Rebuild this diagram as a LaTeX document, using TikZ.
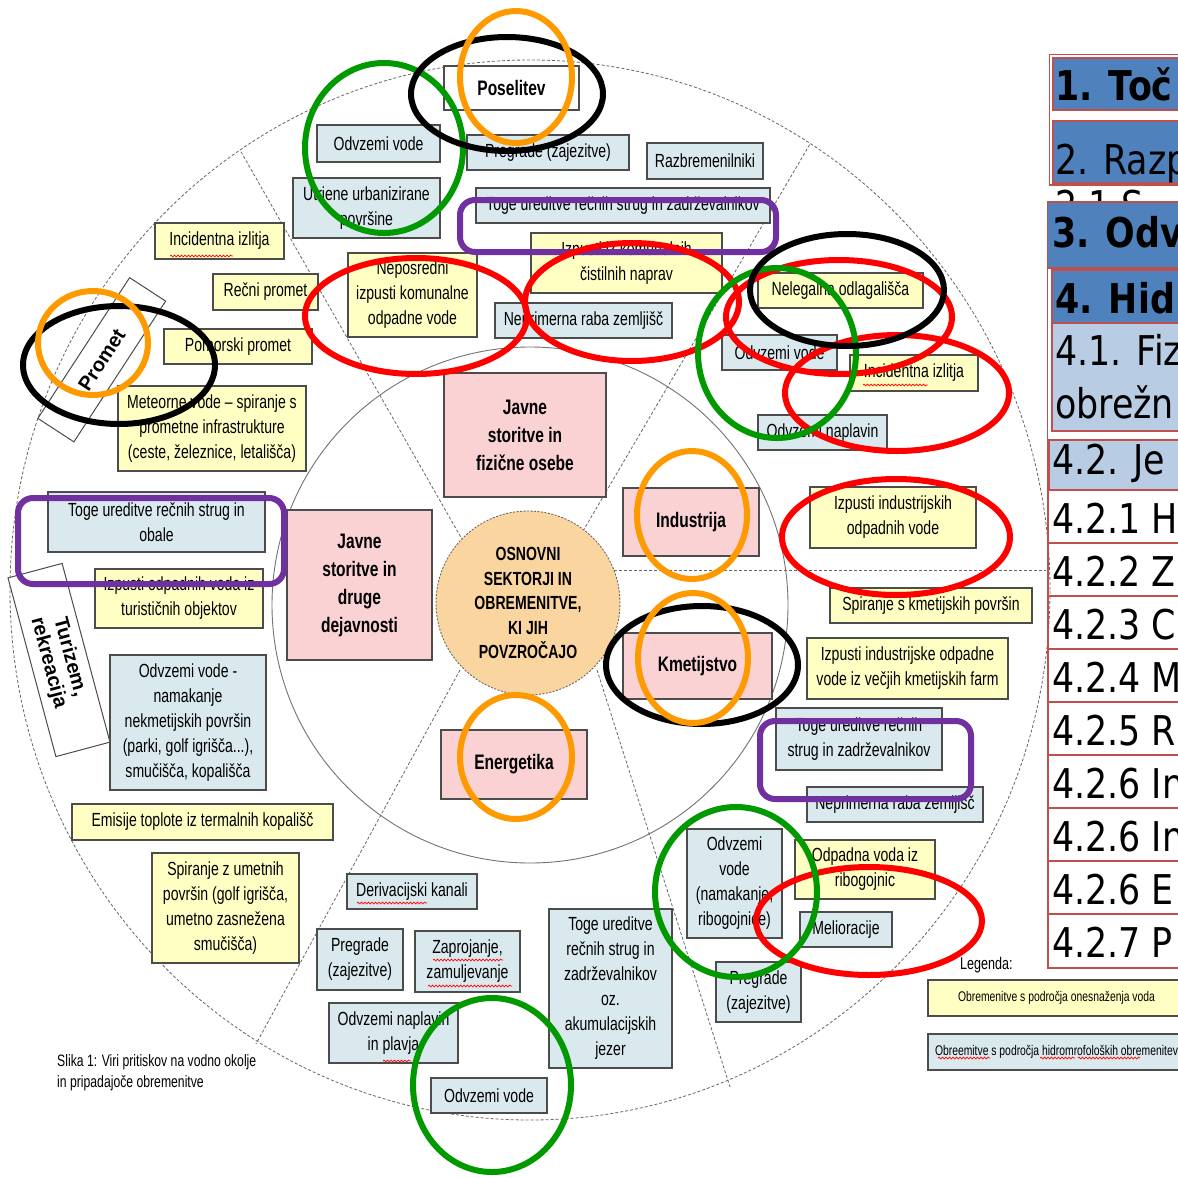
\documentclass[tikz,border=0pt]{standalone}
\usepackage{fontspec}
\setmainfont{Liberation Sans}
\newfontfamily\nf{Liberation Sans}[FakeStretch=0.74]
\newfontfamily\wf{Liberation Sans}
\newfontfamily\tabfont{DejaVu Sans}[FakeStretch=0.85]
\usetikzlibrary{decorations.pathmorphing}
\definecolor{blueF}{RGB}{218,233,238}
\definecolor{yelF}{RGB}{255,255,196}
\definecolor{pinkF}{RGB}{250,210,212}
\definecolor{centerF}{RGB}{250,213,160}
\definecolor{tblue}{RGB}{79,129,189}
\definecolor{tlight}{RGB}{184,204,228}
\definecolor{tred}{RGB}{192,80,77}
\definecolor{annO}{RGB}{255,153,0}
\definecolor{annG}{RGB}{0,153,0}
\definecolor{annR}{RGB}{255,0,0}
\definecolor{annP}{RGB}{112,48,160}
\tikzset{
  basebox/.style={draw=black!70, line width=1.2pt, inner sep=1pt, align=center,
    font=\nf\fontsize{19}{25}\selectfont},
  bluebox/.style={basebox, fill=blueF},
  yelbox/.style={basebox, fill=yelF},
  pinkbox/.style={basebox, fill=pinkF, font=\nf\bfseries\fontsize{21}{28}\selectfont},
  divline/.style={draw=black!60, line width=0.8pt, dash pattern=on 3pt off 2pt},
  annline/.style={line width=6pt},
  squig/.style={draw=red, line width=0.7pt, decorate, decoration={snake, amplitude=0.9pt, segment length=3.5pt}},
  trow/.style={draw=tred, line width=1.6pt},
  tabtxt/.style={anchor=base west, inner sep=0pt, font=\tabfont\fontsize{41}{41}\selectfont},
  tabbold/.style={tabtxt, font=\tabfont\bfseries\fontsize{41}{41}\selectfont},
}
\newcommand{\rbox}[7]{\node[#1, minimum width={(#5-#3)*1pt}, minimum height={(#6-#4)*1pt}] (#2) at ({(#3+#5)/2},{(#4+#6)/2}) {#7};}
\begin{document}
\begin{tikzpicture}[x=1pt,y=-1pt]
\useasboundingbox (0,0) rectangle (1178,1178);
\fill[white] (0,0) rectangle (1178,1178);

% rings
\draw[divline] (530,590) ellipse [x radius=520pt, y radius=530pt];
\draw[draw=black!55, line width=0.9pt] (530,605) circle [radius=258pt];

% dividers
\coordinate (la1) at (463,541); \coordinate (la2) at (240,150);
\coordinate (lb1) at (583,531); \coordinate (lb2) at (810,144);
\coordinate (lc1) at (614,570); \coordinate (lc2) at (1046,570);
\coordinate (ld1) at (597,670); \coordinate (ld2) at (730,1087);
\coordinate (le1) at (460,670); \coordinate (le2) at (256,1044);
\draw[divline] (la1) -- (la2);
\draw[divline] (lb1) -- (lb2);
\draw[divline] (lc1) -- (lc2);
\draw[divline] (ld1) -- (ld2);
\draw[divline] (le1) -- (le2);

% centre
\node[circle, draw=black!60, dash pattern=on 2pt off 1.5pt, line width=0.9pt, fill=centerF, minimum size=184pt, inner sep=0pt, align=center, font=\nf\bfseries\fontsize{19}{24.5}\selectfont] (ctr) at (528,603) {OSNOVNI\\SEKTORJI IN\\OBREMENITVE,\\KI JIH\\POVZROČAJO};

% top sector
\rbox{basebox, fill=white, font=\nf\bfseries\fontsize{21}{25}\selectfont}{pos}{444}{66}{579}{110}{Poselitev}
\rbox{bluebox}{b1}{317}{125}{440}{162}{Odvzemi vode}
\rbox{bluebox}{b2}{467}{135}{629}{170}{Pregrade (zajezitve)}
\rbox{bluebox}{b3}{647}{143}{763}{179}{Razbremenilniki}
\rbox{bluebox}{b4}{293}{178}{440}{238}{Utrjene urbanizirane\\površine}
\rbox{bluebox}{b5}{476}{188}{770}{223}{Toge ureditve rečnih strug in zadrževalnikov}
\rbox{yelbox}{y1}{531}{233}{722}{293}{Izpusti iz komunalnih\\čistilnih naprav}
\rbox{yelbox}{y2}{348}{253}{477}{337}{Neposredni\\izpusti komunalne\\odpadne vode}
\rbox{bluebox}{b6}{495}{303}{672}{338}{Neprimerna raba zemljišč}

% upper right
\rbox{yelbox}{y3}{758}{273}{923}{308}{Nelegalna odlagališča}
\rbox{bluebox}{b7}{722}{335}{837}{370}{Odvzemi vode}
\rbox{yelbox}{y4}{850}{355}{978}{391}{Incidentna izlitja}
\rbox{bluebox}{b8}{758}{415}{887}{450}{Odvzemi naplavin}
\rbox{yelbox}{y5}{810}{487}{976}{548}{Izpusti industrijskih\\odpadnih vode}

% lower right
\rbox{yelbox}{y6}{830}{588}{1032}{623}{Spiranje s kmetijskih površin}
\rbox{yelbox}{y7}{807}{638}{1008}{699}{Izpusti industrijske odpadne\\vode iz večjih kmetijskih farm}
\rbox{bluebox}{b9}{776}{708}{942}{770}{Toge ureditve rečnih\\strug in zadrževalnikov}
\rbox{bluebox}{b10}{807}{787}{983}{822}{Neprimerna raba zemljišč}
\rbox{yelbox}{y8}{795}{840}{935}{899}{Odpadna voda iz\\ribogojnic}
\rbox{bluebox}{b11}{800}{912}{892}{947}{Melioracije}
\rbox{bluebox}{b12}{687}{829}{782}{938}{Odvzemi\\vode\\(namakanje,\\ribogojnice)}
\rbox{bluebox}{b13}{716}{962}{801}{1022}{Pregrade\\(zajezitve)}

% bottom
\rbox{bluebox}{b14}{549}{909}{672}{1068}{Toge ureditve\\rečnih strug in\\zadrževalnikov\\oz.\\akumulacijskih\\jezer}
\rbox{bluebox}{b15}{347}{874}{477}{909}{Derivacijski kanali}
\rbox{bluebox}{b16}{317}{929}{403}{990}{Pregrade\\(zajezitve)}
\rbox{bluebox}{b17}{415}{931}{520}{992}{Zaprojanje,\\zamuljevanje}
\rbox{bluebox}{b18}{329}{1003}{458}{1063}{Odvzemi naplavin\\in plavja}
\rbox{bluebox}{b19}{431}{1078}{547}{1113}{Odvzemi vode}

% lower left
\rbox{bluebox}{b20}{48}{492}{265}{552}{Toge ureditve rečnih strug in\\obale}
\rbox{yelbox}{y9}{95}{569}{263}{628}{Izpusti odpadnih voda iz\\turističnih objektov}
\rbox{bluebox}{b21}{110}{655}{266}{790}{Odvzemi vode -\\namakanje\\nekmetijskih površin\\(parki, golf igrišča...),\\smučišča, kopališča}
\rbox{yelbox}{y10}{72}{804}{333}{840}{Emisije toplote iz termalnih kopališč}
\rbox{yelbox}{y11}{152}{853}{299}{963}{Spiranje z umetnih\\površin (golf igrišča,\\umetno zasnežena\\smučišča)}

% upper left
\rbox{yelbox}{y12}{155}{223}{284}{259}{Incidentna izlitja}
\rbox{yelbox}{y13}{213}{274}{318}{310}{Rečni promet}
\rbox{yelbox}{y14}{164}{329}{312}{364}{Pomorski promet}
\rbox{yelbox}{y15}{118}{386}{306}{471}{Meteorne vode – spiranje s\\prometne infrastrukture\\(ceste, železnice, letališča)}

% inner ring
\rbox{pinkbox}{p1}{444}{373}{606}{497}{Javne\\storitve in\\fizične osebe}
\rbox{pinkbox}{p2}{623}{488}{759}{556}{Industrija}
\rbox{pinkbox}{p3}{623}{633}{772}{699}{Kmetijstvo}
\rbox{pinkbox}{p4}{441}{730}{587}{799}{Energetika}
\rbox{pinkbox}{p5}{287}{510}{432}{660}{Javne\\storitve in\\druge\\dejavnosti}

% sector labels
\node[draw=black!70, line width=1pt, fill=white, rotate=56.9, minimum width=168pt, minimum height=43pt, inner sep=0pt, font=\wf\bfseries\fontsize{20}{24}\selectfont] (prom) at (101.75,359.75) {Promet};
\node[draw=black!70, line width=1pt, fill=white, rotate=-75, minimum width=185pt, minimum height=56pt, inner sep=0pt, align=center, font=\wf\bfseries\fontsize{20}{22}\selectfont] (tur) at (59,660) {Turizem,\\rekreacija};

% caption
\node[anchor=base west, inner sep=0pt, font=\nf\fontsize{16.5}{21}\selectfont] (cap1) at (57,1066) {Slika 1: Viri pritiskov na vodno okolje};
\node[anchor=base west, inner sep=0pt, font=\nf\fontsize{16.5}{21}\selectfont] (cap2) at (57,1087) {in pripadajoče obremenitve};

% legend
\node[anchor=base west, inner sep=0pt, font=\nf\fontsize{17}{20}\selectfont] (leg) at (960,969) {Legenda:};
\rbox{yelbox, font=\nf\fontsize{14}{16}\selectfont}{l1}{928}{980}{1185}{1016}{Obremenitve s področja onesnaženja voda}
\rbox{bluebox, font=\nf\fontsize{14}{16}\selectfont}{l2}{928}{1034}{1185}{1070}{Obreemitve s področja hidromrofoloških obremenitev}

% spelling squiggles
\draw[squig] (170,256) -- (233,256);
\draw[squig] (863,385) -- (928,385);
\draw[squig] (357,903) -- (427,903);
\draw[squig] (433,960) -- (503,960);
\draw[squig] (428,986) -- (512,986);
\draw[squig] (383,1061) -- (411,1061);
\draw[squig] (938,1058) -- (990,1058);
\draw[squig] (1040,1058) -- (1075,1058);
\draw[squig] (1078,1058) -- (1140,1058);

% table
\draw[trow] (1049.5,54.5) rectangle (1182,185);
\draw[trow, fill=tblue] (1053,58) rectangle (1182,110);
\node[tabbold] (t1) at (1055,100) {1. Toč};
\draw[trow, fill=tblue] (1053,121) rectangle (1182,183);
\node[tabtxt] (t2) at (1055,174) {2. Razp};
\node[tabtxt] (t21) at (1055,220) {2.1 S};
\draw[trow, fill=tblue] (1047.5,202) rectangle (1182,268);
\node[tabbold] (t3) at (1052,247) {3. Odv};
\draw[trow, fill=tblue] (1052,270) rectangle (1182,323);
\node[tabbold] (t4) at (1055,313) {4. Hid};
\draw[trow, fill=tlight] (1052,323) rectangle (1182,431);
\node[tabtxt] (t41a) at (1055,365) {4.1. Fiz};
\node[tabtxt] (t41b) at (1055,418) {obrežn};
\draw[trow] (1047.5,202) -- (1047.5,968);
\draw[trow, fill=tlight] (1049,440) rectangle (1182,490);
\node[tabtxt] (t42) at (1052,474) {4.2. Je};
\draw[trow] (1048,490) rectangle (1182,543);
\node[tabtxt] (r1) at (1052,533) {4.2.1 H};
\draw[trow] (1048,543) rectangle (1182,596);
\node[tabtxt] (r2) at (1052,586) {4.2.2 Z};
\draw[trow] (1048,596) rectangle (1182,649);
\node[tabtxt] (r3) at (1052,639) {4.2.3 C};
\draw[trow] (1048,649) rectangle (1182,702);
\node[tabtxt] (r4) at (1052,692) {4.2.4 M};
\draw[trow] (1048,702) rectangle (1182,755);
\node[tabtxt] (r5) at (1052,745) {4.2.5 R};
\draw[trow] (1048,755) rectangle (1182,808);
\node[tabtxt] (r6) at (1052,798) {4.2.6 In};
\draw[trow] (1048,808) rectangle (1182,861);
\node[tabtxt] (r7) at (1052,851) {4.2.6 In};
\draw[trow] (1048,861) rectangle (1182,914);
\node[tabtxt] (r8) at (1052,904) {4.2.6 E};
\draw[trow] (1048,914) rectangle (1182,968);
\node[tabtxt] (r9) at (1052,957) {4.2.7 P};

% annotations: purple
\draw[annline, annP, rounded corners=15pt] (460,200) rectangle (776,252);
\draw[annline, annP, rounded corners=15pt] (18,498) rectangle (284,584);
\draw[annline, annP, rounded corners=15pt] (760,721) rectangle (971,799);
% red
\draw[annline, annR] (416,316) ellipse [x radius=111pt, y radius=58pt];
\draw[annline, annR] (632,302) ellipse [x radius=107pt, y radius=59pt];
\draw[annline, annR] (839,317) ellipse [x radius=113pt, y radius=57pt];
\draw[annline, annR] (897,393) ellipse [x radius=112pt, y radius=58pt];
\draw[annline, annR] (896,537) ellipse [x radius=114pt, y radius=58pt];
\draw[annline, annR] (869,921) ellipse [x radius=113pt, y radius=54pt];
% green
\draw[annline, annG] (384,148) ellipse [x radius=79pt, y radius=85pt];
\draw[annline, annG] (777,353) ellipse [x radius=79pt, y radius=85pt];
\draw[annline, annG] (736,892) ellipse [x radius=81pt, y radius=85pt];
\draw[annline, annG] (492,1085) ellipse [x radius=79pt, y radius=87pt];
% black
\draw[annline, black] (507,94) ellipse [x radius=96pt, y radius=57pt];
\draw[annline, black] (119,365) ellipse [x radius=96pt, y radius=59pt];
\draw[annline, black] (847,290) ellipse [x radius=97pt, y radius=56pt];
\draw[annline, black] (702,665) ellipse [x radius=96pt, y radius=59pt];
% orange
\draw[annline, annO] (516,77) ellipse [x radius=56pt, y radius=66pt];
\draw[annline, annO] (93,343) ellipse [x radius=55pt, y radius=52pt];
\draw[annline, annO] (692,515) ellipse [x radius=55pt, y radius=64pt];
\draw[annline, annO] (693,658) ellipse [x radius=55pt, y radius=65pt];
\draw[annline, annO] (516,757) ellipse [x radius=56pt, y radius=62pt];
\end{tikzpicture}
\end{document}
